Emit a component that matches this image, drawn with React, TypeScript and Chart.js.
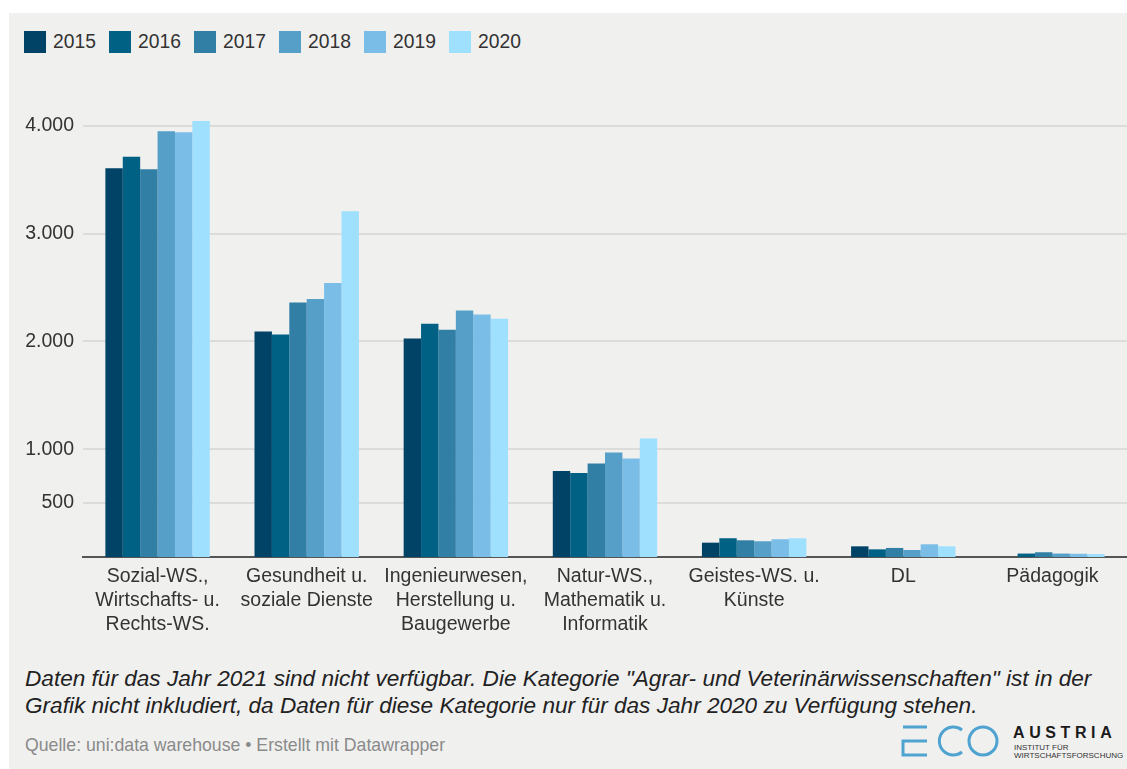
import React, { useEffect, useRef } from "react";
import { Chart, registerables } from "chart.js";

Chart.register(...registerables);

const FONT = '"Liberation Sans", Arial, sans-serif';

const categories: (string | string[])[] = [
  ["Sozial-WS.,", "Wirtschafts- u.", "Rechts-WS."],
  ["Gesundheit u.", "soziale Dienste"],
  ["Ingenieurwesen,", "Herstellung u.", "Baugewerbe"],
  ["Natur-WS.,", "Mathematik u.", "Informatik"],
  ["Geistes-WS. u.", "Künste"],
  "DL",
  "Pädagogik",
];

const years = ["2015", "2016", "2017", "2018", "2019", "2020"];

const values2015 = [3606, 2093, 2028, 799, 133, 99, null];
const values2016 = [3714, 2065, 2163, 780, 174, 71, 32];
const values2017 = [3597, 2362, 2108, 867, 155, 84, 44];
const values2018 = [3950, 2393, 2288, 969, 146, 65, 32];
const values2019 = [3941, 2541, 2251, 914, 165, 118, 30];
const values2020 = [4045, 3207, 2210, 1099, 174, 99, 28];

const yTickValues = [500, 1000, 2000, 3000, 4000];

const colors = ["#004366", "#006184", "#327fa5", "#569fc8", "#7abee8", "#9ee0fe"];

const note =
  'Daten für das Jahr 2021 sind nicht verfügbar. Die Kategorie "Agrar- und Veterinärwissenschaften" ist in der Grafik nicht inkludiert, da Daten für diese Kategorie nur für das Jahr 2020 zu Verfügung stehen.';
const source = "Quelle: uni:data warehouse • Erstellt mit Datawrapper";

const fmt = (v: number) => String(v).replace(/\B(?=(\d{3})+(?!\d))/g, ".");

export default function App() {
  const ref = useRef<HTMLCanvasElement | null>(null);

  useEffect(() => {
    if (!ref.current) return;
    const series = [values2015, values2016, values2017, values2018, values2019, values2020];
    const chart = new Chart(ref.current, {
      type: "bar",
      data: {
        labels: categories,
        datasets: years.map((y, i) => ({
          label: y,
          data: series[i],
          backgroundColor: colors[i],
          borderWidth: 0,
          categoryPercentage: 0.7,
          barPercentage: 1.0,
        })),
      },
      options: {
        animation: false,
        responsive: false,
        maintainAspectRatio: false,
        layout: { padding: 0 },
        plugins: { legend: { display: false }, tooltip: { enabled: false } },
        scales: {
          x: {
            grid: { display: false, drawTicks: false },
            border: { display: true, color: "#555555", width: 2 },
            ticks: {
              font: { family: FONT, size: 19.5, lineHeight: 1.23 },
              color: "#333333",
              padding: 8,
              maxRotation: 0,
              autoSkip: false,
            },
            afterFit: (s: any) => {
              s.height = 85;
              s.paddingLeft = 0;
              s.paddingRight = 0;
            },
          },
          y: {
            min: 0,
            max: 4240,
            afterBuildTicks: (s: any) => {
              s.ticks = yTickValues.map((v) => ({ value: v }));
            },
            grid: { color: "#dcdcdb", lineWidth: 2, drawTicks: false },
            border: { display: false },
            ticks: {
              font: { family: FONT, size: 19.5 },
              color: "#333333",
              padding: 9,
              callback: (v: any) => fmt(Number(v)),
            },
            afterFit: (s: any) => {
              s.width = 83;
              s.paddingTop = 0;
              s.paddingBottom = 0;
            },
          },
        },
      },
    });
    return () => chart.destroy();
  }, []);

  return (
    <div
      style={{
        position: "absolute",
        left: 0,
        top: 0,
        width: 1127,
        height: 769,
        background: "#ffffff",
        overflow: "hidden",
        fontFamily: FONT,
      }}
    >
      <div
        style={{
          position: "absolute",
          left: 9,
          top: 13,
          right: 0,
          bottom: 0,
          background: "#f0f0ef",
        }}
      />
      {years.map((y, i) => (
        <div
          key={y}
          style={{
            position: "absolute",
            left: 24 + i * 85,
            top: 31,
            height: 22,
            display: "flex",
            alignItems: "center",
          }}
        >
          <div style={{ width: 22, height: 22, background: colors[i] }} />
          <span style={{ marginLeft: 7, fontSize: 19.3, color: "#333", lineHeight: "22px" }}>{y}</span>
        </div>
      ))}
      <canvas
        ref={ref}
        width={1127}
        height={542}
        style={{ position: "absolute", left: 0, top: 100, width: 1127, height: 542 }}
      />
      <div
        style={{
          position: "absolute",
          left: 25,
          top: 665,
          width: 1095,
          fontSize: 22.6,
          lineHeight: "27px",
          fontStyle: "italic",
          color: "#222",
        }}
      >
        {note}
      </div>
      <div
        style={{
          position: "absolute",
          left: 25,
          top: 735,
          fontSize: 17.7,
          lineHeight: "20px",
          color: "#8a8a8a",
          whiteSpace: "nowrap",
        }}
      >
        {source}
      </div>
      <svg
        style={{ position: "absolute", left: 900, top: 724 }}
        width={102}
        height={34}
        viewBox="0 0 102 34"
      >
        <g fill="none" stroke="#4fa3d1" strokeWidth={3}>
          <line x1={3} y1={3} x2={27} y2={3} />
          <polyline points="27,17 3,17 3,31 27,31" />
          <path d="M 62 6 A 14 14 0 1 0 62 28" />
          <circle cx={83} cy={17} r={14} />
        </g>
      </svg>
      <div
        style={{
          position: "absolute",
          left: 1013,
          top: 723,
          fontSize: 16,
          fontWeight: "bold",
          letterSpacing: 4.6,
          color: "#1a1a1a",
          lineHeight: "19px",
          whiteSpace: "nowrap",
        }}
      >
        AUSTRIA
      </div>
      <div
        style={{
          position: "absolute",
          left: 1014,
          top: 744,
          fontSize: 8,
          lineHeight: "8px",
          color: "#333",
          whiteSpace: "nowrap",
        }}
      >
        INSTITUT FÜR
        <br />
        WIRTSCHAFTSFORSCHUNG
      </div>
    </div>
  );
}
